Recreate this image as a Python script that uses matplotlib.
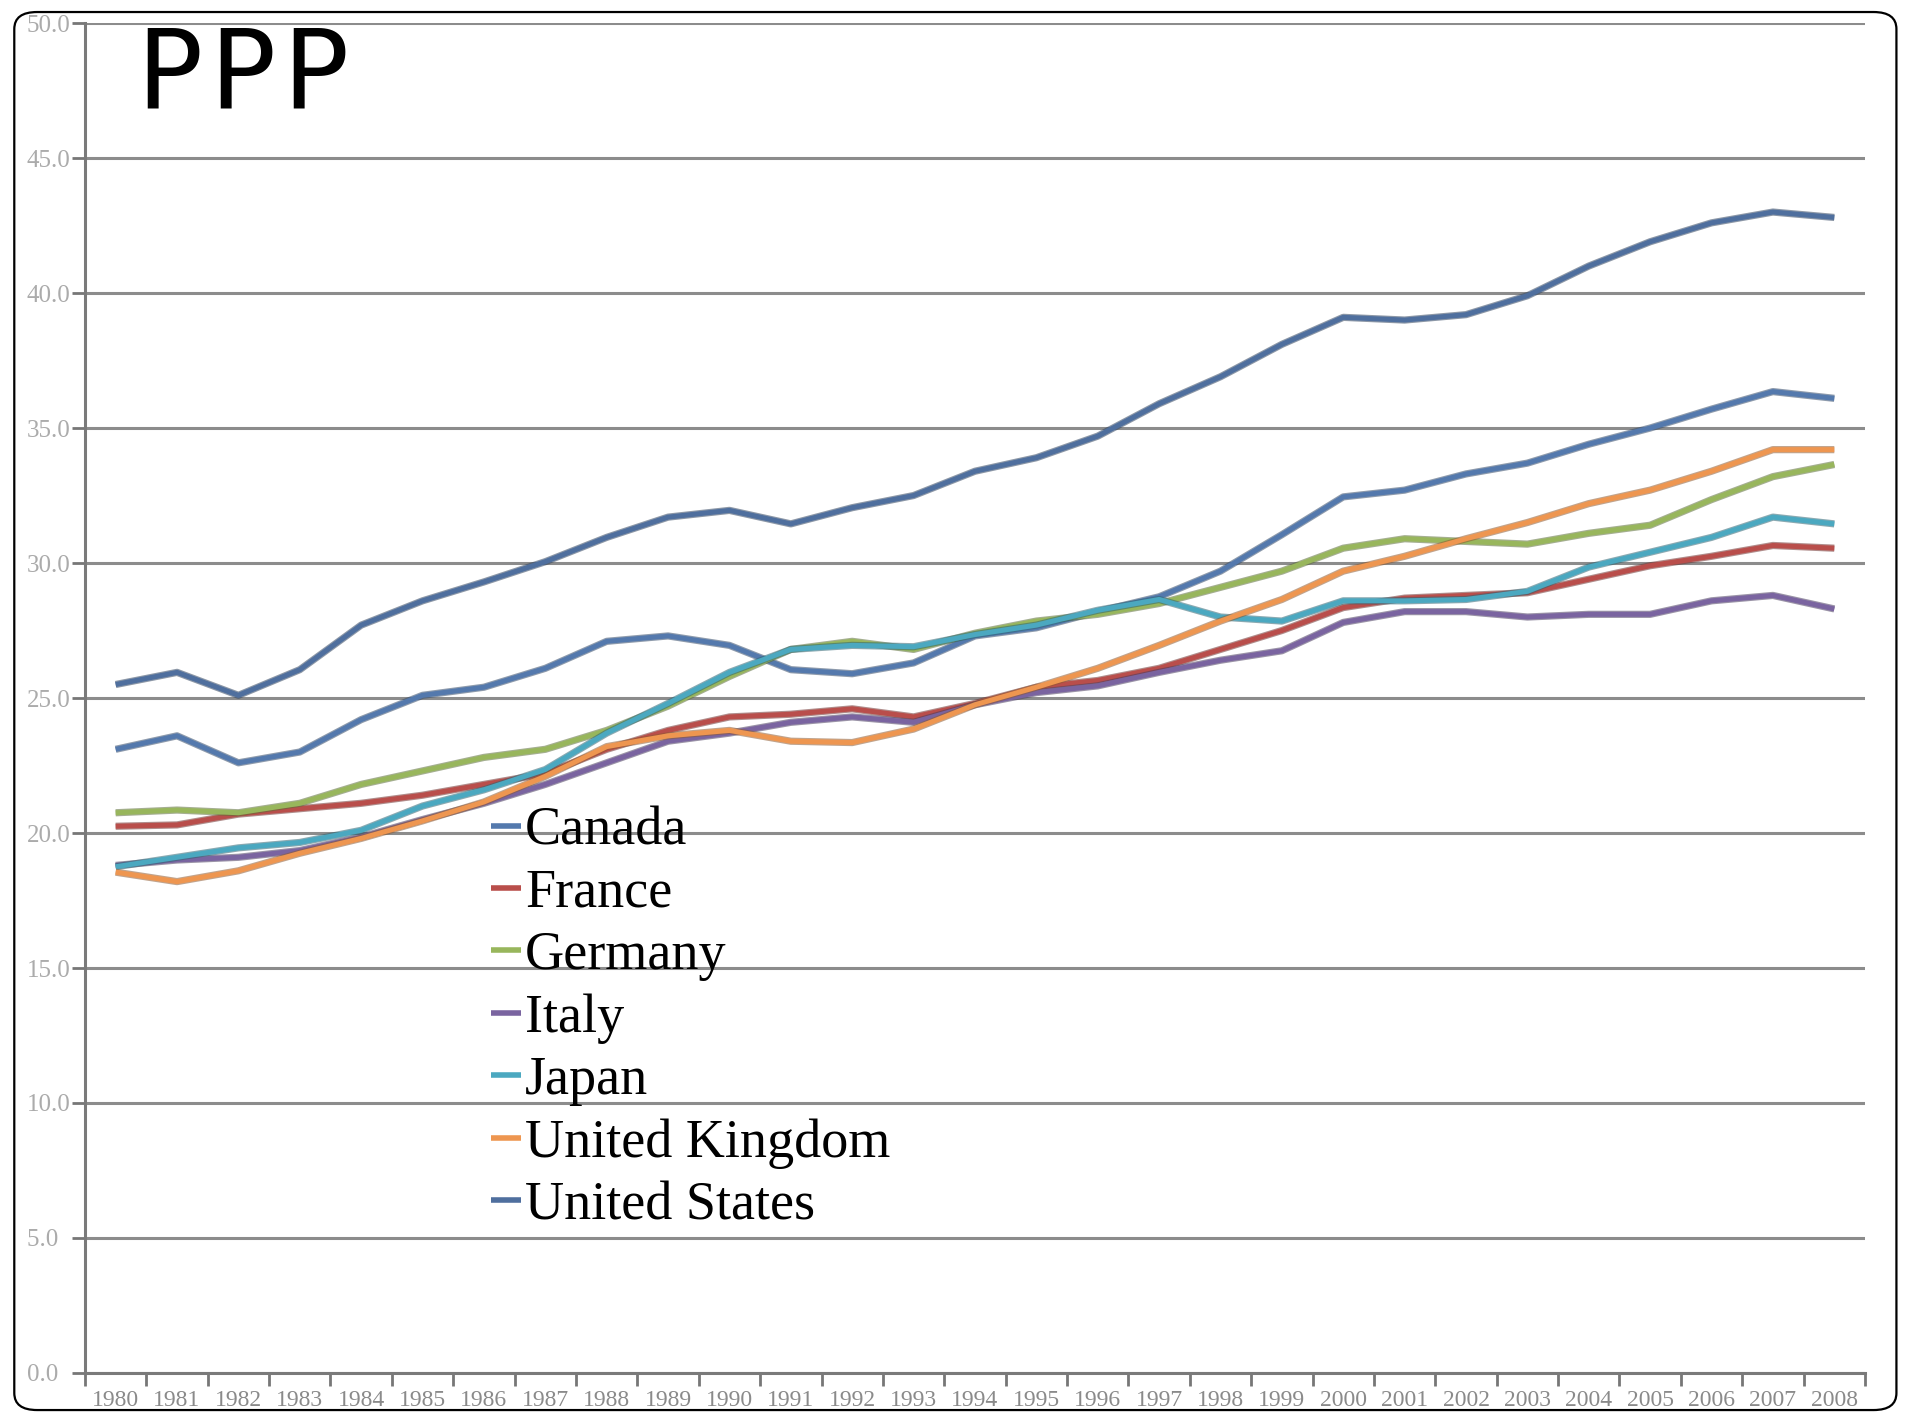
import matplotlib
matplotlib.use("Agg")
import matplotlib.pyplot as plt
import matplotlib.patheffects as pe
from matplotlib.patches import FancyBboxPatch
import numpy as np

anos = list(range(1980, 2009))

canada = [23.1, 23.6, 22.6, 23.0, 24.2, 25.1, 25.4, 26.1, 27.1, 27.3,
          26.95, 26.05, 25.9, 26.3, 27.3, 27.6, 28.2, 28.75, 29.7, 31.05,
          32.45, 32.7, 33.3, 33.7, 34.4, 35.0, 35.7, 36.35, 36.1]
franca = [20.25, 20.3, 20.7, 20.9, 21.1, 21.4, 21.8, 22.2, 23.1, 23.8,
          24.3, 24.4, 24.6, 24.3, 24.8, 25.4, 25.65, 26.1, 26.8, 27.5,
          28.35, 28.7, 28.8, 28.9, 29.4, 29.9, 30.25, 30.65, 30.55]
alemanha = [20.75, 20.85, 20.75, 21.1, 21.8, 22.3, 22.8, 23.1, 23.8, 24.7,
            25.8, 26.8, 27.1, 26.8, 27.4, 27.85, 28.1, 28.5, 29.1, 29.7,
            30.55, 30.9, 30.8, 30.7, 31.1, 31.4, 32.35, 33.2, 33.65]
italia = [18.8, 19.0, 19.1, 19.35, 19.85, 20.5, 21.1, 21.8, 22.6, 23.4,
          23.7, 24.1, 24.3, 24.1, 24.75, 25.2, 25.45, 25.95, 26.4, 26.75,
          27.8, 28.2, 28.2, 28.0, 28.1, 28.1, 28.6, 28.8, 28.3]
japao = [18.75, 19.1, 19.45, 19.65, 20.1, 21.0, 21.6, 22.35, 23.7, 24.8,
         25.95, 26.8, 26.95, 26.9, 27.35, 27.7, 28.25, 28.65, 28.0, 27.85,
         28.6, 28.6, 28.65, 28.95, 29.85, 30.4, 30.95, 31.7, 31.45]
reino_unido = [18.55, 18.2, 18.6, 19.25, 19.8, 20.45, 21.15, 22.1, 23.2, 23.6,
               23.8, 23.4, 23.35, 23.85, 24.75, 25.4, 26.1, 26.95, 27.85, 28.65,
               29.7, 30.25, 30.9, 31.5, 32.2, 32.7, 33.4, 34.2, 34.2]
eua = [25.5, 25.95, 25.1, 26.05, 27.7, 28.6, 29.3, 30.05, 30.95, 31.7,
       31.95, 31.45, 32.05, 32.5, 33.4, 33.9, 34.7, 35.9, 36.9, 38.1,
       39.1, 39.0, 39.2, 39.9, 41.0, 41.9, 42.6, 43.0, 42.8]

paises = ["Canada", "France", "Germany", "Italy", "Japan",
          "United Kingdom", "United States"]
series = [canada, franca, alemanha, italia, japao, reino_unido, eua]
cores = ["#5479ad", "#b94e4b", "#98b65c", "#7a64a0", "#4ba8c0",
         "#ee9650", "#4f6f9e"]

yticks = np.arange(0, 50.1, 5)

fig = plt.figure(figsize=(19.05, 14.15), dpi=100)
ax = fig.add_axes([0.0446, 0.0297, 0.9344, 0.954])

x = np.arange(len(anos))
for nome, valores, cor in zip(paises, series, cores):
    escura = tuple(c * 0.6 for c in matplotlib.colors.to_rgb(cor))
    ax.plot(x, valores, color=cor, lw=3.6, label=nome,
            solid_joinstyle="round", solid_capstyle="butt",
            path_effects=[pe.Stroke(linewidth=5.2, foreground=escura, alpha=0.55),
                          pe.Normal()])

serif = ["Liberation Serif", "DejaVu Serif"]

ax.set_xlim(-0.5, len(anos) - 0.5)
ax.set_ylim(0, 50)
ax.set_yticks(yticks)
# rótulos de um dígito ficam recuados, como no Excel
ax.set_yticklabels([f"{v:.1f}" + ("\u2007" if v < 10 else "") for v in yticks],
                   family=serif, fontsize=18, color="#ababab")
ax.set_xticks(x)
ax.set_xticklabels([str(a) for a in anos], family=serif,
                   fontsize=17, color="#8a8a8a")
ax.set_xticks(np.arange(-0.5, len(anos), 1), minor=True)
ax.tick_params(axis="x", which="major", length=0, pad=12)
ax.tick_params(axis="x", which="minor", length=9, width=2, color="#777777")
ax.tick_params(axis="y", length=9.5, width=2, color="#777777", pad=1)

ax.grid(axis="y", color="#8c8c8c", lw=2.2)
ax.set_axisbelow(True)
for lado in ["top", "right"]:
    ax.spines[lado].set_visible(False)
for lado in ["left", "bottom"]:
    ax.spines[lado].set_color("#7a7a7a")
    ax.spines[lado].set_linewidth(2.2)

leg = ax.legend(loc="upper left", bbox_to_anchor=(0.216, 0.436), frameon=False,
                prop={"family": serif, "size": 39},
                handlelength=0.55, handletextpad=0.08, labelspacing=0.22,
                borderaxespad=0)
for linha in leg.get_lines():
    linha.set_linewidth(4)
    linha.set_path_effects([])

# título com espaçamento largo entre as letras
for i, letra in enumerate("PPP"):
    fig.text((136 + 73 * i) / 1905, 1 - 108 / 1415, letra, family="DejaVu Sans",
             fontsize=79, va="baseline", ha="left")

borda = FancyBboxPatch((0.0075, 0.0035), 0.988, 0.988, transform=fig.transFigure,
                       boxstyle="round,pad=0,rounding_size=0.012",
                       fill=False, ec="black", lw=1.6)
fig.patches.append(borda)

fig.savefig("out.png", dpi=100)
